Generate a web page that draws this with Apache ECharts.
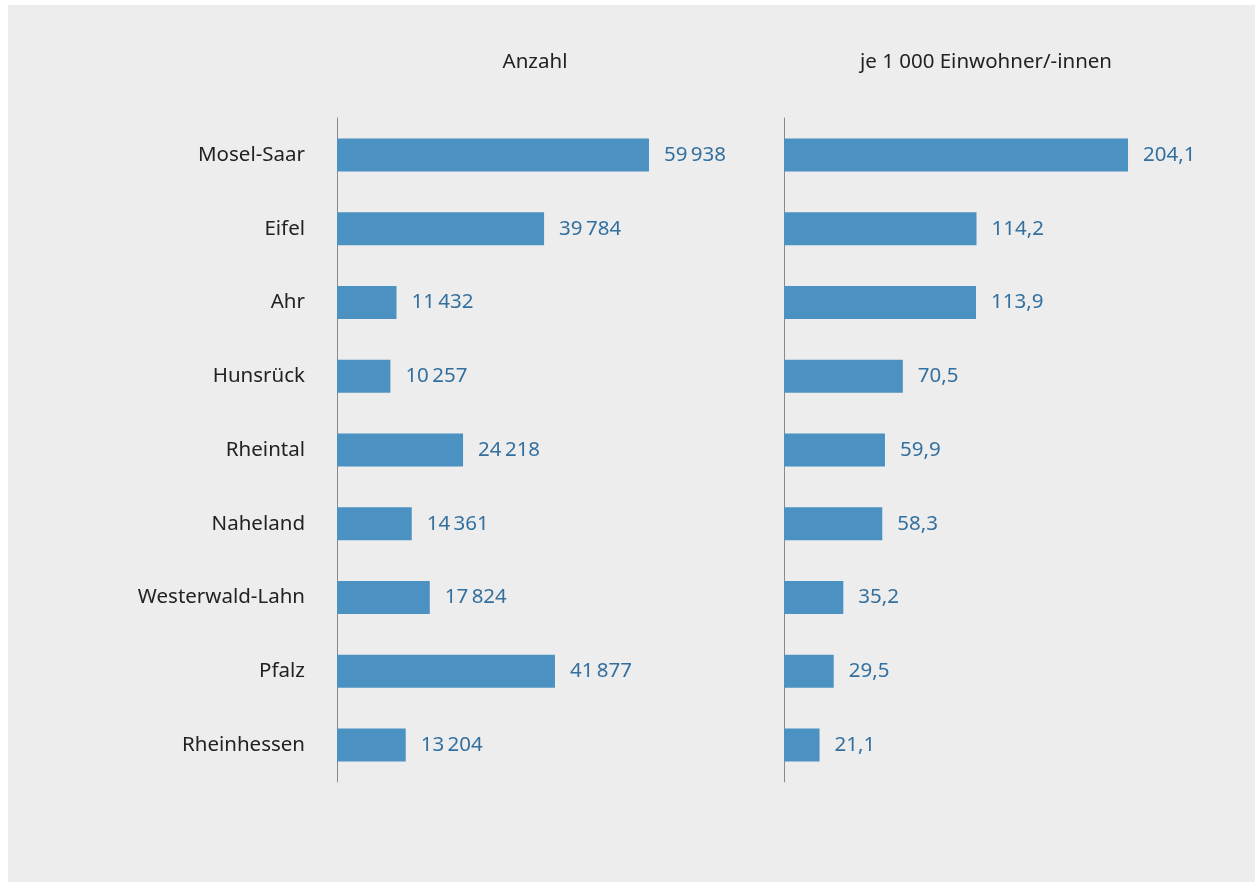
<!DOCTYPE html>
<html><head><meta charset="utf-8">
<script src="https://cdn.jsdelivr.net/npm/echarts@6/dist/echarts.min.js"></script>
<style>
html,body{margin:0;padding:0;background:#fff;width:1255px;height:882px;overflow:hidden}
#c{position:absolute;left:8px;top:5px;width:1247px;height:877px;background:#ededed}
</style></head><body>
<div id="c"></div>
<script>
const categories = ['Mosel-Saar','Eifel','Ahr','Hunsrück','Rheintal','Naheland','Westerwald-Lahn','Pfalz','Rheinhessen'];
const anzahl = [59938, 39784, 11432, 10257, 24218, 14361, 17824, 41877, 13204];
const jeTausend = [204.1, 114.2, 113.9, 70.5, 59.9, 58.3, 35.2, 29.5, 21.1];
const titleLeft = 'Anzahl';
const titleRight = 'je 1 000 Einwohner/-innen';

const font = 'Noto Sans';
const fs = 20.5;
const barColor = '#4b92c3';
const labelColor = '#33709f';
const ox = 8, oy = 5;
function fmtInt(v){ return String(v).replace(/\B(?=(\d{3})+(?!\d))/g, '\u2009'); }
function fmtDec(v){ return v.toFixed(1).replace('.', ','); }

const chart = echarts.init(document.getElementById('c'));
const gridTop = 118 - oy, gridH = 664;
chart.setOption({
  backgroundColor: '#ededed',
  animation: false,
  textStyle: {fontFamily: font},
  title: [
    {text: titleLeft, left: 530 - ox, top: 47 - oy, textAlign: 'center',
     textStyle: {fontFamily: font, fontSize: fs, fontWeight: 'normal', color: '#222'}},
    {text: titleRight, left: 981 - ox, top: 47 - oy, textAlign: 'center',
     textStyle: {fontFamily: font, fontSize: fs, fontWeight: 'normal', color: '#222'}}
  ],
  grid: [
    {left: 337 - ox, top: gridTop, width: 416.4, height: gridH},
    {left: 784 - ox, top: gridTop, width: 421.4, height: gridH}
  ],
  xAxis: [
    {gridIndex: 0, type: 'value', min: 0, max: 80000, show: false},
    {gridIndex: 1, type: 'value', min: 0, max: 250, show: false}
  ],
  yAxis: [
    {gridIndex: 0, type: 'category', data: categories, inverse: true,
     axisLine: {show: true, lineStyle: {color: '#8a8a8a', width: 1}}, axisTick: {show: false},
     axisLabel: {margin: 32, fontFamily: font, fontSize: fs, color: '#222'}},
    {gridIndex: 1, type: 'category', data: categories, inverse: true,
     axisLine: {show: true, lineStyle: {color: '#8a8a8a', width: 1}}, axisTick: {show: false},
     axisLabel: {show: false}}
  ],
  series: [
    {type: 'bar', xAxisIndex: 0, yAxisIndex: 0, data: anzahl, barWidth: 33,
     itemStyle: {color: barColor},
     label: {show: true, position: 'right', distance: 15, fontFamily: font, fontSize: fs, color: labelColor,
       formatter: p => fmtInt(p.value)}},
    {type: 'bar', xAxisIndex: 1, yAxisIndex: 1, data: jeTausend, barWidth: 33,
     itemStyle: {color: barColor},
     label: {show: true, position: 'right', distance: 15, fontFamily: font, fontSize: fs, color: labelColor,
       formatter: p => fmtDec(p.value)}}
  ]
});
</script></body></html>
